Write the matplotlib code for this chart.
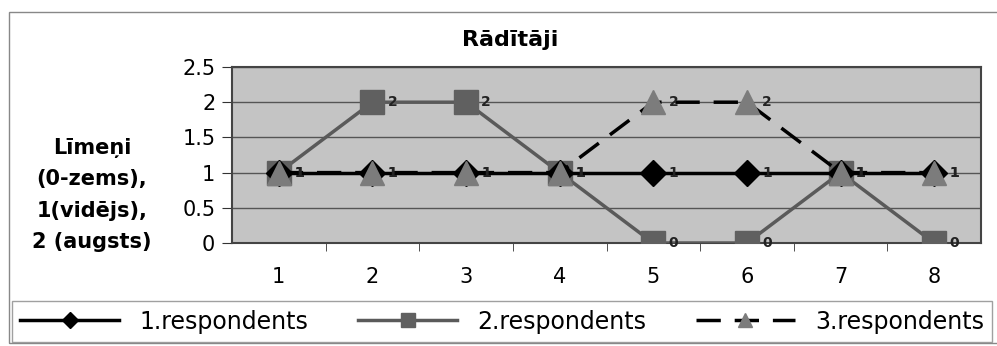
import matplotlib.pyplot as plt
from matplotlib.patches import Rectangle

# Respondentu rādītāji pa jautājumiem
jautajumi = [1, 2, 3, 4, 5, 6, 7, 8]
respondents_1 = [1, 1, 1, 1, 1, 1, 1, 1]
respondents_2 = [1, 2, 2, 1, 0, 0, 1, 0]
respondents_3 = [1, 1, 1, 1, 2, 2, 1, 1]
nosaukumi = ['1.respondents', '2.respondents', '3.respondents']

plt.rcParams['font.family'] = ['DejaVu Sans']

fig = plt.figure(figsize=(9.97, 3.46), dpi=100)
W, H = 997, 346

# ārējais rāmis
fig.patches.append(Rectangle((9 / W, 3 / H), 1.2, (346 - 12 - 3) / H, transform=fig.transFigure,
                             fill=False, edgecolor='#888888', linewidth=1.0))

ax = fig.add_axes([232 / W, 1 - 243 / H, (981 - 232) / W, (243 - 67) / H])
ax.set_facecolor('#c4c4c4')

ax.plot(jautajumi, respondents_1, color='black', linewidth=2.5, marker='D',
        markersize=13, markerfacecolor='black', markeredgecolor='black', zorder=4,
        label=nosaukumi[0])
ax.plot(jautajumi, respondents_2, color='#5a5a5a', linewidth=2.5, marker='s',
        markersize=17, markerfacecolor='#606060', markeredgecolor='#606060', zorder=3,
        label=nosaukumi[1])
ax.plot(jautajumi, respondents_3, color='black', linewidth=2.5, dashes=(7, 4),
        marker='^', markersize=17, markerfacecolor='#7c7c7c', markeredgecolor='#7c7c7c',
        zorder=5, label=nosaukumi[2])

# vērtību uzraksti pie punktiem
for series in (respondents_1, respondents_2, respondents_3):
    for x, y in zip(jautajumi, series):
        ax.annotate(str(y), (x, y), xytext=(11, 0), textcoords='offset points',
                    ha='left', va='center', fontsize=10, fontweight='bold',
                    color='#222222', zorder=6)

ax.set_xlim(0.5, 8.5)
ax.set_ylim(0, 2.5)
ax.set_yticks([0, 0.5, 1, 1.5, 2, 2.5])
ax.set_yticklabels(['0', '0.5', '1', '1.5', '2', '2.5'])
ax.yaxis.grid(True, color='#555555', linewidth=1.0)
ax.set_axisbelow(True)

ax.set_xticks(jautajumi)
ax.set_xticklabels([str(j) for j in jautajumi])
ax.set_xticks([1.5, 2.5, 3.5, 4.5, 5.5, 6.5, 7.5], minor=True)
ax.tick_params(axis='x', which='major', length=0, pad=17, labelsize=15)
ax.tick_params(axis='x', which='minor', length=6, direction='out', color='#333333')
ax.tick_params(axis='y', length=7, direction='out', pad=5, labelsize=15, color='#333333')
for s in ax.spines.values():
    s.set_color('#444444')
    s.set_linewidth(1.5)

fig.text(510 / W, 1 - 40 / H, 'Rādītāji', ha='center', va='center',
         fontsize=16, fontweight='bold')
fig.text(92 / W, 1 - 195 / H, 'Līmeņi\n(0-zems),\n1(vidējs),\n2 (augsts)',
         ha='center', va='center', multialignment='center', fontsize=15,
         fontweight='bold', linespacing=1.7)

leg = fig.legend(loc='lower left', bbox_to_anchor=(12 / W, 4 / H), ncol=3,
                 frameon=True, fancybox=False, fontsize=17,
                 handlelength=4.2, handletextpad=0.85, columnspacing=2.1,
                 borderpad=0.35, borderaxespad=0, markerscale=0.6)
leg.get_frame().set_edgecolor('#888888')
leg.get_frame().set_linewidth(1.0)

fig.savefig('out.png', dpi=100)
